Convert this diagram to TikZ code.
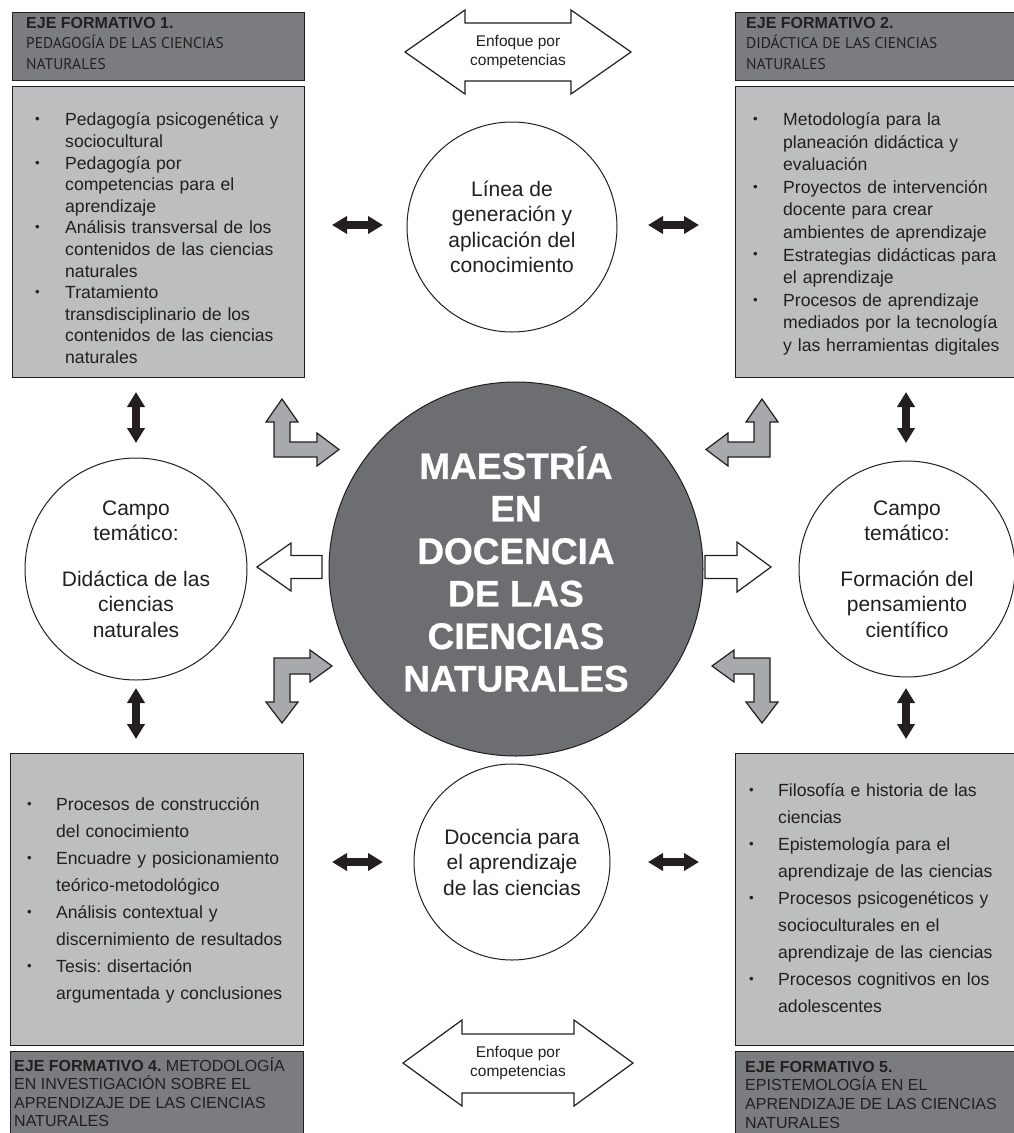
\documentclass[tikz,border=0pt]{standalone}
\usepackage{fontspec}
\usepackage{graphicx}
\setmainfont{Liberation Sans}
\newfontfamily\ptsans{PT Sans}
\newfontfamily\heavyfont{Liberation Sans Bold}[FakeBold=0.8]
\usetikzlibrary{arrows.meta}
\definecolor{hdrgray}{HTML}{7B7C7F}
\definecolor{bodygray}{HTML}{BCBEC0}
\definecolor{centergray}{HTML}{6D6E71}
\definecolor{lgray}{HTML}{A7A9AC}
\definecolor{lineblk}{HTML}{231F20}
\newcommand{\bul}[2][30pt]{\par\noindent\hangindent=#1\hangafter=1\makebox[#1][l]{\raisebox{0.12em}{\scalebox{0.75}{\textbullet}}}#2\par}
\newcommand{\nl}{\hfil\break}
\frenchspacing
\begin{document}
\begin{tikzpicture}[x=1pt,y=-1pt,
  hdr/.style={draw=lineblk, line width=1.3pt, fill=hdrgray, anchor=north west, inner sep=0},
  bodybox/.style={draw=lineblk, line width=1.3pt, fill=bodygray, anchor=north west, inner sep=0},
  htxt/.style={anchor=north west, inner sep=0, align=left, text=lineblk, font=\fontsize{16}{20.5}\selectfont},
  btxt/.style={anchor=west, inner sep=0, align=left, text=lineblk, font=\fontsize{17.6}{21.6}\selectfont},
  btxtb/.style={anchor=west, inner sep=0, align=left, text=lineblk, font=\fontsize{17.6}{27}\selectfont},
  wcirc/.style={circle, draw=lineblk, line width=1pt, fill=white, inner sep=0, align=center, text=lineblk, font=\fontsize{21}{25.5}\selectfont},
  blk/.style={line width=8pt, draw=lineblk, {Triangle[length=15pt,width=17pt]}-{Triangle[length=15pt,width=17pt]}},
  lshape/.style={fill=lgray, draw=lineblk, line width=1.2pt, line join=miter},
  wshape/.style={fill=white, draw=lineblk, line width=1.2pt, line join=miter},
  enf/.style={align=center, inner sep=0, text=lineblk, font=\fontsize{15.5}{19}\selectfont}
]
\fill[white] (0,0) rectangle (1013,1133);
\useasboundingbox (0,0) rectangle (1013,1133);

% ---- boxes top-left
\node[hdr, minimum width=292pt, minimum height=68pt] (h1) at (12,12) {};
\node[htxt] (h1t) at (26,17) {\textbf{EJE FORMATIVO 1.}\\{\ptsans\fontsize{15.5}{20.5}\selectfont PEDAGOGÍA DE LAS CIENCIAS}\\{\ptsans\fontsize{15.5}{20.5}\selectfont NATURALES}};
\node[bodybox, minimum width=292pt, minimum height=291pt] (b1) at (12,86) {};
\node[btxt, text width=268pt] (b1t) at (35,234) {%
\bul{Pedagogía psicogenética y\nl sociocultural}%
\bul{Pedagogía por\nl competencias para el\nl aprendizaje}%
\bul{Análisis transversal de los\nl contenidos de las ciencias\nl naturales}%
\bul{Tratamiento\nl transdisciplinario de los\nl contenidos de las ciencias\nl naturales}};

% ---- boxes top-right
\node[hdr, minimum width=282pt, minimum height=68pt] (h2) at (735,12) {};
\node[htxt] (h2t) at (746,17) {\textbf{EJE FORMATIVO 2.}\\{\ptsans\fontsize{15.5}{20.5}\selectfont DIDÁCTICA DE LAS CIENCIAS}\\{\ptsans\fontsize{15.5}{20.5}\selectfont NATURALES}};
\node[bodybox, minimum width=282pt, minimum height=291pt] (b2) at (735,86) {};
\node[btxt, text width=258pt, font=\fontsize{17.6}{22.6}\selectfont] (b2t) at (753,229) {%
\bul{Metodología para la\nl planeación didáctica y\nl evaluación}%
\bul{Proyectos de intervención\nl docente para crear\nl ambientes de aprendizaje}%
\bul{Estrategias didácticas para\nl el aprendizaje}%
\bul{Procesos de aprendizaje\nl mediados por la tecnología\nl y las herramientas digitales}};

% ---- boxes bottom-left
\node[bodybox, minimum width=293pt, minimum height=292pt] (b4) at (10,753) {};
\node[btxtb, text width=274pt] (b4t) at (27,893) {%
\bul[29pt]{Procesos de construcción\nl del conocimiento}%
\bul[29pt]{Encuadre y posicionamiento\nl teórico-metodológico}%
\bul[29pt]{Análisis contextual y\nl discernimiento de resultados}%
\bul[29pt]{Tesis: disertación\nl argumentada y conclusiones}};
\node[hdr, minimum width=293pt, minimum height=95pt] (h4) at (10,1051) {};
\node[htxt, font=\fontsize{16}{18.6}\selectfont] (h4t) at (14,1057) {\textbf{EJE FORMATIVO 4.} METODOLOGÍA\\EN INVESTIGACIÓN SOBRE EL\\APRENDIZAJE DE LAS CIENCIAS\\NATURALES};

% ---- boxes bottom-right
\node[bodybox, minimum width=282pt, minimum height=292pt] (b5) at (735,753) {};
\node[btxtb, text width=262pt] (b5t) at (749,891) {%
\bul[29pt]{Filosofía e historia de las\nl ciencias}%
\bul[29pt]{Epistemología para el\nl aprendizaje de las ciencias}%
\bul[29pt]{Procesos psicogenéticos y\nl socioculturales en el\nl aprendizaje de las ciencias}%
\bul[29pt]{Procesos cognitivos en los\nl adolescentes}};
\node[hdr, minimum width=282pt, minimum height=95pt] (h5) at (735,1051) {};
\node[htxt, font=\fontsize{16}{18.6}\selectfont] (h5t) at (745,1061) {\textbf{EJE FORMATIVO 5.}\\EPISTEMOLOGÍA EN EL\\APRENDIZAJE DE LAS CIENCIAS\\NATURALES};

% ---- circles
\node[wcirc, minimum size=210pt] (top) at (512,227) {Línea de\\generación y\\aplicación del\\conocimiento};
\node[wcirc, minimum size=196pt] (bot) at (512,862) {Docencia para\\el aprendizaje\\de las ciencias};
\node[wcirc, minimum size=222pt] (left) at (136,569) {Campo\\temático:\\[20pt]Didáctica de las\\ciencias\\naturales};
\node[wcirc, minimum size=216pt] (right) at (907,569) {Campo\\temático:\\[20pt]Formación del\\pensamiento\\científico};
\node[circle, fill=centergray, draw=lineblk, line width=1pt, minimum size=374pt, inner sep=0, align=center, text=white, font=\fontsize{37}{42.5}\heavyfont] (c) at (516,569) {MAESTRÍA\\EN\\DOCENCIA\\DE LAS\\CIENCIAS\\NATURALES};

% ---- Enfoque por competencias arrows
\draw[wshape] (405,52) -- (465,10) -- (465,23) -- (571,23) -- (571,10) -- (631,52) -- (571,94) -- (571,81) -- (465,81) -- (465,94) -- cycle;
\node[enf] (enf1) at (518,52) {Enfoque por\\competencias};
\draw[wshape] (403,1063) -- (462,1020) -- (462,1034) -- (574,1034) -- (574,1020) -- (633,1063) -- (574,1106) -- (574,1093) -- (462,1093) -- (462,1106) -- cycle;
\node[enf] (enf2) at (518,1063) {Enfoque por\\competencias};

% ---- white block arrows
\draw[wshape] (257,567) -- (291,543) -- (291,555.5) -- (322,555.5) -- (322,578.5) -- (291,578.5) -- (291,591) -- cycle;
\draw[wshape] (771,567) -- (737,542) -- (737,555.5) -- (705,555.5) -- (705,578.5) -- (737,578.5) -- (737,592) -- cycle;

% ---- gray L arrows
\draw[lshape] (282,399) -- (298,422) -- (290,422) -- (290,442) -- (317,442) -- (317,433) -- (339,449.5) -- (317,466) -- (317,457) -- (274,457) -- (274,422) -- (266,422) -- cycle;
\draw[lshape] (762,399) -- (778,422) -- (770,422) -- (770,457) -- (728,457) -- (728,466) -- (706,449.5) -- (728,433) -- (728,442) -- (754,442) -- (754,422) -- (746,422) -- cycle;
\draw[lshape] (274,658) -- (310,658) -- (310,650) -- (332,666) -- (310,682) -- (310,674) -- (290,674) -- (290,702) -- (298,702) -- (282,723) -- (266,702) -- (274,702) -- cycle;
\draw[lshape] (770,658) -- (734,658) -- (734,650) -- (712,666) -- (734,682) -- (734,674) -- (754,674) -- (754,702) -- (746,702) -- (762,723) -- (778,702) -- (770,702) -- cycle;

% ---- black double arrows
\coordinate (k1a) at (332,225); \coordinate (k1b) at (383,225);
\coordinate (k2a) at (648,225); \coordinate (k2b) at (699,225);
\coordinate (k3a) at (332,862); \coordinate (k3b) at (383,862);
\coordinate (k4a) at (648,862); \coordinate (k4b) at (699,862);
\coordinate (k5a) at (136,392); \coordinate (k5b) at (136,443);
\coordinate (k6a) at (136,688); \coordinate (k6b) at (136,739);
\coordinate (k7a) at (906,392); \coordinate (k7b) at (906,443);
\coordinate (k8a) at (906,688); \coordinate (k8b) at (906,739);
\draw[blk] (k1a) -- (k1b);
\draw[blk] (k2a) -- (k2b);
\draw[blk] (k3a) -- (k3b);
\draw[blk] (k4a) -- (k4b);
\draw[blk] (k5a) -- (k5b);
\draw[blk] (k6a) -- (k6b);
\draw[blk] (k7a) -- (k7b);
\draw[blk] (k8a) -- (k8b);
\end{tikzpicture}
\end{document}
